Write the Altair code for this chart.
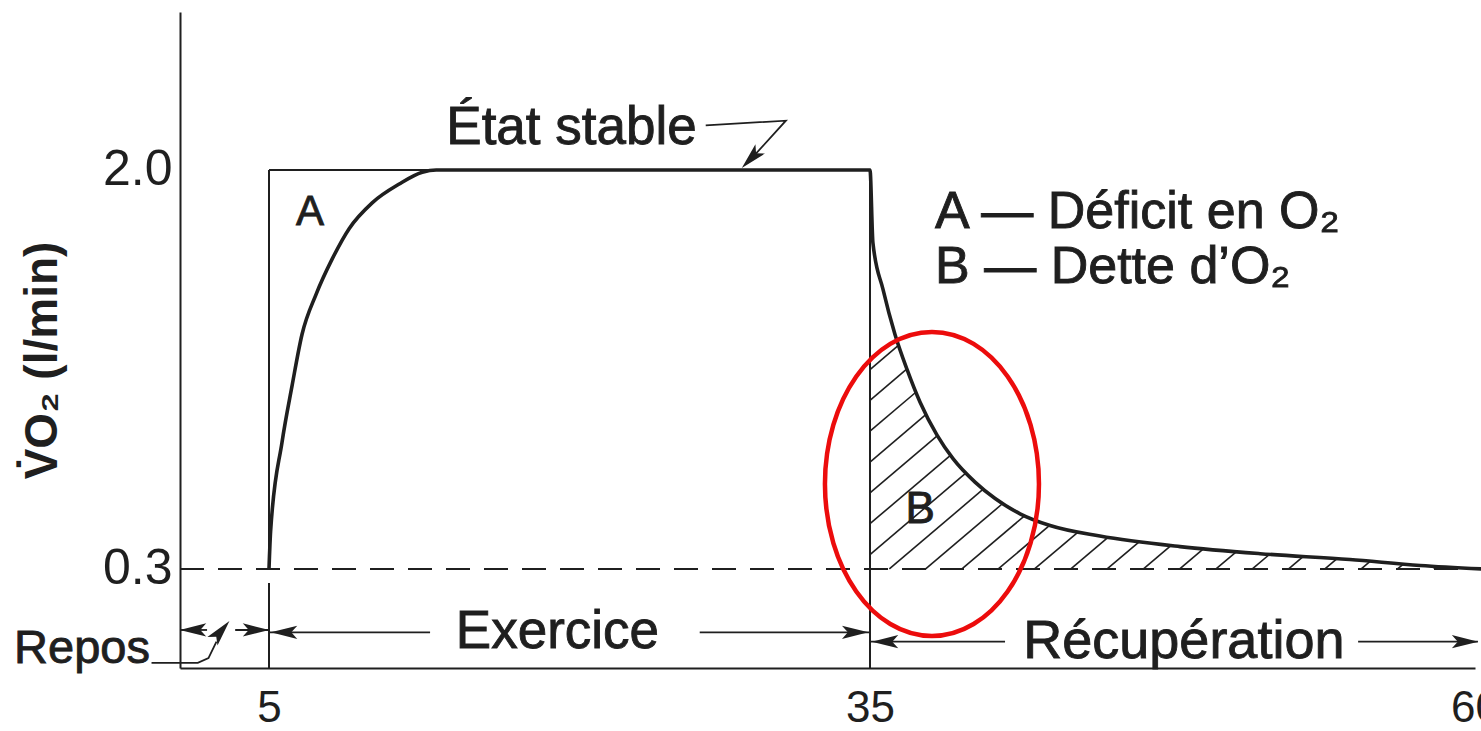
import altair as alt
import numpy as np
import pandas as pd

# --- O2 uptake during rest, exercise and recovery (time in min, VO2 in l/min) ---
REST = 0.3
STEADY = 2.0
T_START, T_END = 5.0, 35.0

rise_t = [5.0, 5.08, 5.65, 6.15, 6.65, 7.35, 8.15, 9.0, 10.15, 11.5, 12.65, 13.35, 20.0, 28.0, 35.0]
rise_v = [0.30, 0.46, 0.84, 1.08, 1.30, 1.47, 1.62, 1.75, 1.86, 1.94, 1.99, 2.00, 2.00, 2.00, 2.00]

rec_t = [35.12, 35.54, 36.03, 36.53, 37.07, 37.77, 38.43, 39.34, 40.17, 41.2, 42.44,
         44.5, 47.81, 51.12, 54.83, 57.73, 60.3]
rec_v = [1.69, 1.49, 1.30, 1.15, 1.01, 0.87, 0.77, 0.67, 0.60, 0.535, 0.485,
         0.44, 0.395, 0.365, 0.34, 0.315, 0.30]

x_ticks = [5, 35, 60]
y_ticks = [0.3, 2.0]

INK = "#1f1f1f"
FONT = "Liberation Sans"
RED = "#ec0c0c"
TXT_STROKE = 0.9  # slightly heavier lettering

# schematic (piecewise) time axis
XS = alt.Scale(domain=[0, 5, 35, 60], range=[0, 89, 690, 1295], nice=False, zero=False)
YS = alt.Scale(domain=[-0.122, 2.673], nice=False, zero=False)

XAX = alt.Axis(values=x_ticks, title=None, ticks=False, grid=False, format="d",
               labelFontSize=44, labelPadding=18, labelColor=INK, labelFont=FONT,
               labelFlush=False, labelOverlap=False, domainColor=INK, domainWidth=2)
YAX = alt.Axis(values=y_ticks, format=".1f", ticks=False, grid=False,
               labelFontSize=50, labelPadding=8, labelColor=INK, labelFont=FONT,
               labelOverlap=False, domainColor=INK, domainWidth=2,
               title="V\u0307O\u2082 (l/min)", titleFont=FONT, titleFontSize=46,
               titleFontWeight="bold", titleColor=INK, titleAngle=270,
               titleX=-138, titleY=348, titleAlign="center", titleBaseline="middle")


def X(f="x"):
    return alt.X(f"{f}:Q", scale=XS, axis=XAX)


def Y(f="y"):
    return alt.Y(f"{f}:Q", scale=YS, axis=YAX)


# curve table
curve = pd.DataFrame({"x": rise_t + rec_t, "y": rise_v + rec_v})
curve["o"] = range(len(curve))

# hatching of the O2 debt area (between rest level and recovery curve)
k = 0.0876
grid = np.linspace(T_END, 60.3, 6000)
cv = np.interp(grid, [T_END] + rec_t, [1.72] + rec_v)
hatch = []
for x0 in np.arange(25.3, 60.0, 1.5):
    xs = max(T_END, x0)
    ys = REST + k * (xs - x0)
    line = REST + k * (grid - x0)
    ok = (grid >= xs) & (line >= cv)
    if ys >= np.interp(xs, grid, cv) or not ok.any():
        continue
    xe = grid[np.argmax(ok)]
    hatch.append({"x": xs, "y": ys, "x2": xe, "y2": REST + k * (xe - x0)})
hatch = pd.DataFrame(hatch)

hatch_layer = alt.Chart(hatch).mark_rule(color=INK, strokeWidth=1.6).encode(
    x=X(), y=Y(), x2="x2:Q", y2="y2:Q")

rest_line = alt.Chart(pd.DataFrame({"x": [0.0], "x2": [62.0], "y": [REST]})).mark_rule(
    color=INK, strokeWidth=2, strokeDash=[24, 14]).encode(x=X(), x2="x2:Q", y=Y())

# thin frame of the exercise period
frame = pd.DataFrame({
    "x":  [T_START, T_START, T_START, T_END],
    "x2": [T_START, T_START, T_END,   T_END],
    "y":  [-0.122, REST, STEADY, -0.122],
    "y2": [0.24, STEADY, STEADY, STEADY],
})
frame_layer = alt.Chart(frame).mark_rule(color=INK, strokeWidth=2).encode(
    x=X(), x2="x2:Q", y=Y(), y2="y2:Q")

curve_layer = alt.Chart(curve).mark_line(
    color=INK, strokeWidth=3.6, interpolate="monotone").encode(
    x=X(), y=Y(), order="o:Q")

# phase arrows (horizontal segments)
segs = pd.DataFrame({
    "x":  [0.0, 3.1, 5.0, 26.5, 35.0, 55.17],
    "x2": [1.52, 5.0, 13.04, 35.0, 40.58, 60.12],
    "y":  [0.04, 0.04, 0.03, 0.03, -0.01, -0.01],
})
seg_layer = alt.Chart(segs).mark_rule(color=INK, strokeWidth=1.8).encode(
    x=X(), x2="x2:Q", y=Y())

# leaders (Repos, État stable)
leaders = pd.DataFrame({
    "x": [-1.6, 1.0, 1.6, 2.05, 26.8, 30.8, 29.1],
    "y": [-0.1, -0.1, -0.08, -0.01, 2.19, 2.21, 2.05],
    "g": ["r", "r", "r", "r", "e", "e", "e"],
    "o": [0, 1, 2, 3, 0, 1, 2],
})
leader_layer = alt.Chart(leaders).mark_line(color=INK, strokeWidth=1.8).encode(
    x=X(), y=Y(), detail="g:N", order="o:Q")

ARROW = "M1,0L-1,-0.5L-0.55,0L-1,0.5Z"
heads = pd.DataFrame({
    "x": [0.73, 4.27, 5.75, 34.26, 35.62, 59.59, 2.3, 29.06],
    "y": [0.04, 0.04, 0.03, 0.03, -0.01, -0.01, 0.035, 2.049],
    "a": [180, 0, 180, 0, 180, 0, 310, 134],
})
head_layer = alt.Chart(heads).mark_point(
    shape=ARROW, filled=True, color=INK, size=700, opacity=1).encode(
    x=X(), y=Y(), angle=alt.Angle("a:Q", scale=None))

# text labels
center_txt = pd.DataFrame({
    "x": [19.4, 47.97, 20.1, 7.05, 37.07],
    "y": [0.03, -0.01, 2.18, 1.82, 0.55],
    "t": ["Exercice", "Récupération", "État stable", "A", "B"],
    "fs": [53, 54, 53, 42, 44],
})
center_layer = alt.Chart(center_txt).mark_text(
    align="center", baseline="middle", font=FONT, color=INK,
    stroke=INK, strokeWidth=TXT_STROKE).encode(
    x=X(), y=Y(), text="t:N", size=alt.Size("fs:Q", scale=None))

left_txt = pd.DataFrame({
    "x": [37.69, 37.69],
    "y": [1.82, 1.585],
    "t": ["A — Déficit en O₂", "B — Dette d’O₂"],
})
left_layer = alt.Chart(left_txt).mark_text(
    align="left", baseline="middle", font=FONT, color=INK, fontSize=52,
    stroke=INK, strokeWidth=TXT_STROKE).encode(
    x=X(), y=Y(), text="t:N")

right_txt = pd.DataFrame({"x": [-1.69], "y": [-0.04], "t": ["Repos"]})
right_layer = alt.Chart(right_txt).mark_text(
    align="right", baseline="middle", font=FONT, color=INK, fontSize=47,
    stroke=INK, strokeWidth=TXT_STROKE).encode(
    x=X(), y=Y(), text="t:N")

# highlight ring around the debt area
RING = ("M0,-1C0.389,-1 0.704,-0.552 0.704,0C0.704,0.552 0.389,1 0,1"
        "C-0.389,1 -0.704,0.552 -0.704,0C-0.704,-0.552 -0.389,-1 0,-1Z")
ring = alt.Chart(pd.DataFrame({"x": [37.56], "y": [0.662]})).mark_point(
    shape=RING, filled=False, color=RED, strokeWidth=4.5, size=92416, opacity=1).encode(
    x=X(), y=Y())

chart = alt.layer(
    hatch_layer, rest_line, frame_layer, curve_layer, seg_layer, leader_layer,
    head_layer, center_layer, left_layer, right_layer, ring,
).properties(
    width=1301, height=656,
    autosize=alt.AutoSizeParams(type="none"),
    padding={"left": 180, "top": 12, "right": 0, "bottom": 63},
    background="white",
).configure_view(stroke=None)

chart.save("out.html", embed_options={"renderer": "svg", "actions": False})
